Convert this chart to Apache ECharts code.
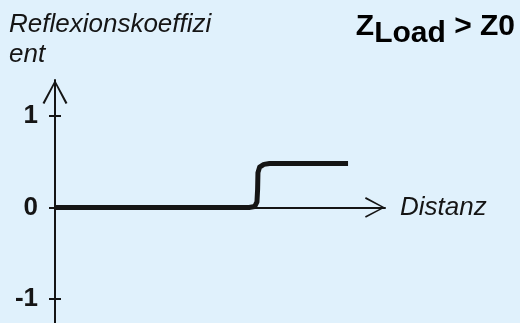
<!DOCTYPE html>
<html>
<head>
<meta charset="utf-8">
<script src="https://cdn.jsdelivr.net/npm/echarts@6/dist/echarts.min.js"></script>
<style>
  html, body { margin: 0; padding: 0; background: #e0f1fc; }
  #chart { width: 520px; height: 323px; }
</style>
</head>
<body>
<div id="chart"></div>
<script>
// Reflexionskoeffizient über Distanz, Fall ZLoad > Z0
var distanz = [0, 58.8, 60.5, 61.2, 61.4, 61.5, 62, 63.3, 65, 88.8];
var reflexion = [0, 0, 0.01, 0.06, 0.2, 0.38, 0.44, 0.47, 0.48, 0.48];
var yTicks = [-1, 0, 1];

var font = 'Liberation Sans, Arial, sans-serif';
var ink = '#151515';
var arrowY = 'path://M13,0 L26,24 L24,25 L13,3.6 L2,25 L0,24 Z';

var points = [];
for (var i = 0; i < distanz.length; i++) {
    points.push([distanz[i], reflexion[i]]);
}

var myChart = echarts.init(document.getElementById('chart'));
option = {
    backgroundColor: '#e0f1fc',
    animation: false,
    title: [
        {
            text: 'Reflexionskoeffizi\nent',
            left: 9,
            top: 10,
            padding: 0,
            textStyle: {
                fontFamily: font,
                fontStyle: 'italic',
                fontWeight: 'normal',
                fontSize: 26,
                lineHeight: 30,
                color: ink
            }
        },
        {
            text: '{z|Z}{sub|Load}{n| > Z0}',
            right: 5,
            top: 12,
            padding: 0,
            textStyle: {
                rich: {
                    z: { fontFamily: font, fontWeight: 'bold', fontSize: 30, color: '#000', lineHeight: 30, verticalAlign: 'top' },
                    sub: { fontFamily: font, fontWeight: 'bold', fontSize: 30, color: '#000', lineHeight: 30, verticalAlign: 'top', padding: [7, 0, 0, 0] },
                    n: { fontFamily: font, fontWeight: 'bold', fontSize: 30, color: '#000', lineHeight: 30, verticalAlign: 'top' }
                }
            }
        }
    ],
    grid: { left: 55, right: 135, top: 80, bottom: 0 },
    xAxis: {
        type: 'value',
        min: 0,
        max: 100,
        name: 'Distanz',
        nameLocation: 'end',
        nameGap: 15,
        nameTextStyle: { fontFamily: font, fontStyle: 'italic', fontSize: 26, color: ink },
        axisLine: {
            onZero: true,
            lineStyle: { color: ink, width: 2 },
            symbol: ['none', arrowY],
            symbolSize: [27, 20],
            symbolOffset: [0, -10]
        },
        axisTick: { show: false },
        axisLabel: { show: false },
        splitLine: { show: false }
    },
    yAxis: [
        {
            type: 'value',
            min: -1.26,
            max: 1.39,
            axisLine: {
                show: true,
                onZero: false,
                lineStyle: { color: ink, width: 2 },
                symbol: ['none', arrowY],
                symbolSize: [26, 24],
                symbolOffset: [0, -12]
            },
            axisTick: { show: true, inside: false, length: 6, customValues: yTicks, lineStyle: { color: ink, width: 2 } },
            axisLabel: {
                customValues: yTicks,
                margin: 17,
                fontFamily: font,
                fontWeight: 'bold',
                fontSize: 26,
                color: ink
            },
            splitLine: { show: false }
        },
        {
            type: 'value',
            position: 'left',
            min: -1.26,
            max: 1.39,
            axisLine: { show: false },
            axisTick: { show: true, inside: true, length: 6, customValues: yTicks, lineStyle: { color: ink, width: 2 } },
            axisLabel: { show: false },
            splitLine: { show: false }
        }
    ],
    series: [
        {
            type: 'line',
            data: points,
            showSymbol: false,
            symbol: 'none',
            lineStyle: { color: ink, width: 5, join: 'round', cap: 'butt' },
            z: 5
        }
    ]
};
myChart.setOption(option);
</script>
</body>
</html>
